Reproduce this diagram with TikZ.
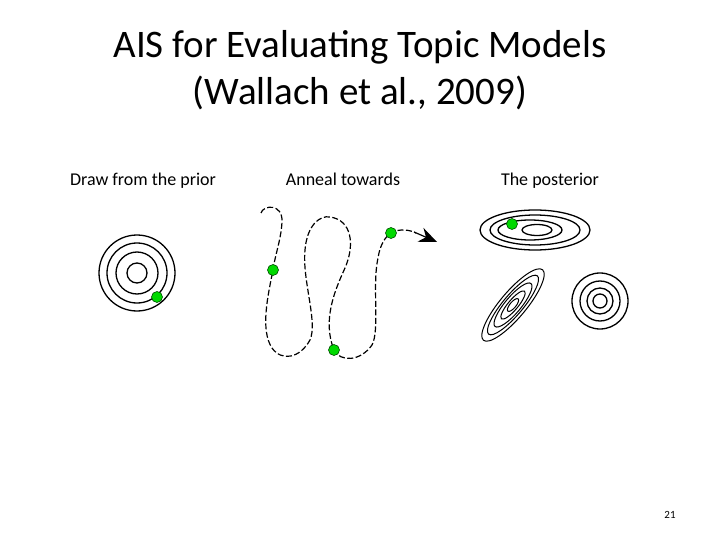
\documentclass[tikz,border=0pt]{standalone}
\usepackage{fontspec}
\setmainfont{Carlito}
\usetikzlibrary{arrows.meta}
\begin{document}
\begin{tikzpicture}[x=1pt,y=-1pt,
  ring/.style={line width=1.3pt},
  dot/.style={circle,fill=green!85!black,draw=black!70!green,line width=0.6pt,inner sep=0pt,minimum size=11pt},
  lbl/.style={font=\fontsize{18}{20}\selectfont,anchor=base}]
\useasboundingbox (0,0) rectangle (720,540);
\node[align=center,font=\fontsize{39}{47}\selectfont] (title) at (360,70) {AIS for Evaluating Topic Models\\(Wallach et al., 2009)};
\node[lbl] (l1) at (143,186) {Draw from the prior};
\node[lbl] (l2) at (343,186) {Anneal towards};
\node[lbl] (l3) at (550,186) {The posterior};
\node[font=\fontsize{11}{12}\selectfont] (pg) at (670,515) {21};
% prior
\foreach \r in {38,30,21,10} \draw[ring] (137,273) circle (\r);
\node[dot] (d1) at (157,297) {};
% annealing path
\draw[line width=1.2pt,dash pattern=on 6pt off 2.5pt]
 (261,213) .. controls (263,205) and (283,203) .. (282,222)
 .. controls (281,240) and (275,255) .. (273,270)
 .. controls (268,295) and (260,330) .. (272,348)
 .. controls (282,362) and (300,358) .. (310,340)
 .. controls (318,322) and (302,280) .. (305,250)
 .. controls (307,225) and (320,215) .. (330,217)
 .. controls (352,220) and (355,245) .. (345,268)
 .. controls (335,290) and (322,320) .. (334,350)
 .. controls (340,362) and (360,362) .. (372,345)
 .. controls (380,330) and (372,285) .. (378,258)
 .. controls (380,245) and (385,237) .. (391,233)
 .. controls (400,228) and (410,230) .. (416,233);
\draw[-{Stealth[length=18pt,width=15pt,inset=6pt]},line width=1.2pt] (414,232) -- (437,242);
\node[dot] (d2) at (273,270) {};
\node[dot] (d3) at (334,350) {};
\node[dot] (d4) at (391,233) {};
% posterior
\draw[ring] (535,230) ellipse (55 and 20);
\draw[ring] (535,230) ellipse (45 and 15);
\draw[ring] (530,230) ellipse (32 and 10);
\draw[ring] (537,230) ellipse (15 and 5.5);
\node[dot] (d5) at (512,224) {};
\foreach \a/\b in {46/13,38/10,28/8,18/5,8/3}
  \draw[line width=1pt,rotate around={50:(513,305)}] (513,305) ellipse (\a pt and \b pt);
\foreach \r in {28,20,13,7} \draw[ring] (600,301) circle (\r);
\end{tikzpicture}
\end{document}
